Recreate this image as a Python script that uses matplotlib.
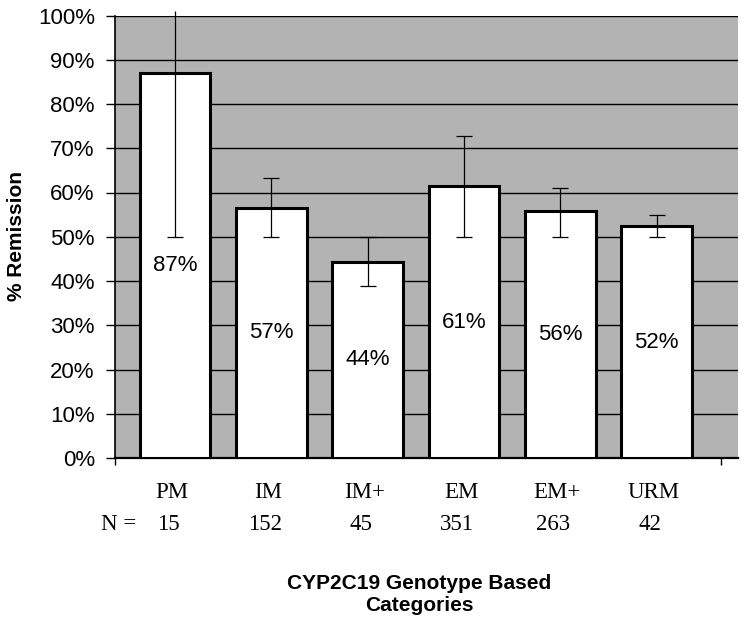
import matplotlib
matplotlib.use("Agg")
import matplotlib.pyplot as plt
import matplotlib.transforms as mtransforms

categories = ["PM", "IM", "IM+", "EM", "EM+", "URM"]
n_values = ["15", "152", "45", "351", "263", "42"]
remission = [87.1, 56.6, 44.4, 61.4, 55.9, 52.4]
err_low = [50.0, 50.0, 38.8, 50.0, 50.0, 50.0]
err_high = [101.0, 63.2, 50.0, 72.7, 61.0, 55.0]
yticks = [0, 10, 20, 30, 40, 50, 60, 70, 80, 90, 100]

W, H = 747, 618
fig = plt.figure(figsize=(W / 100, H / 100), dpi=100)
ax = fig.add_axes([115 / W, 1 - 458 / H, (738 - 115) / W, (458 - 15.5) / H])
ax.set_facecolor("#b3b3b3")

x = list(range(len(categories)))
ax.bar(x, remission, width=0.735, color="white", edgecolor="black",
       linewidth=2.2, zorder=3)

lower = [v - lo for v, lo in zip(remission, err_low)]
upper = [hi - v for v, hi in zip(remission, err_high)]
eb = ax.errorbar(x, remission, yerr=[lower, upper], fmt="none", ecolor="black",
                 elinewidth=0.9, capsize=5.5, capthick=0.9, zorder=4)
for lc in eb[2]:
    lc.set_clip_on(False)

for xi, v in zip(x, remission):
    ax.text(xi, v / 2, f"{round(v)}%", ha="center", va="center",
            fontsize=16, family="Liberation Sans", zorder=5)

ax.set_xlim(-0.623, 5.846)
ax.set_ylim(0, 100)
ax.set_yticks(yticks)
ax.set_yticklabels([f"{t}%" for t in yticks], fontsize=16, family="Liberation Sans")
ax.yaxis.grid(True, color="black", linewidth=1.0)
ax.set_axisbelow(True)
ax.tick_params(axis="y", direction="out", length=6.5, width=1.0, pad=8)
ax.set_xticks([-0.623, 5.67])
ax.set_xticklabels([])
ax.tick_params(axis="x", direction="out", length=5, width=1.0)

for s in ["top", "right"]:
    ax.spines[s].set_visible(False)
ax.spines["left"].set_linewidth(1.2)
ax.spines["bottom"].set_linewidth(1.6)

trans = mtransforms.blended_transform_factory(ax.transData, fig.transFigure)
for xi, c, n in zip(x, categories, n_values):
    ax.text(xi - 0.03, 1 - 493 / H, c, transform=trans, ha="center", va="center",
            fontsize=16.5, family="Liberation Serif", clip_on=False)
    ax.text(xi - 0.07, 1 - 524 / H, n, transform=trans, ha="center", va="center",
            fontsize=16.5, family="Liberation Serif", clip_on=False)
fig.text(101 / W, 1 - 524 / H, "N =", ha="left", va="center",
         fontsize=16.5, family="Liberation Serif")

fig.text(17 / W, 1 - 236 / H, "% Remission", rotation=90, ha="center", va="center",
         fontsize=15, fontweight="bold", family="Liberation Sans")
fig.text(419 / W, 1 - 594.5 / H, "CYP2C19 Genotype Based\nCategories",
         ha="center", va="center", multialignment="center",
         fontsize=15, fontweight="bold", family="Liberation Sans")

fig.savefig("out.png", dpi=100)
